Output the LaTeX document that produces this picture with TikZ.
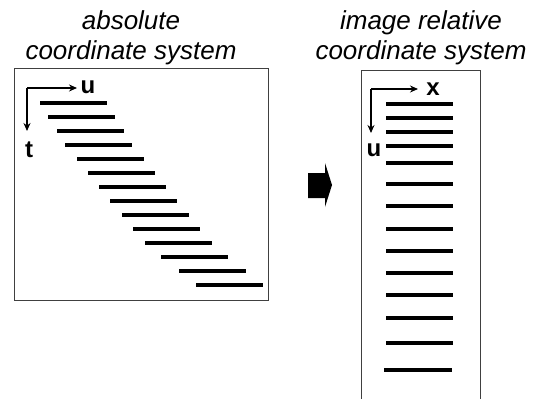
\documentclass[tikz,border=0pt]{standalone}
\usepackage{fontspec}
\setmainfont{Liberation Sans}
\usetikzlibrary{arrows.meta, positioning}

\tikzset{
  title/.style={font=\fontsize{26}{30}\selectfont\itshape, align=center, inner sep=0pt},
  axislabel/.style={font=\fontsize{24}{26}\selectfont\bfseries, inner sep=0pt},
  axis/.style={line width=2pt, -{Stealth[length=8pt,width=7pt]}},
  frame/.style={line width=0.8pt, black!75},
  bar/.style={line width=4.5pt}
}

\begin{document}
\begin{tikzpicture}[x=1pt, y=-1pt]
\useasboundingbox (0,0) rectangle (533,399);
%
\node[title] (absT) at (131,38) {absolute\\coordinate system};
\node[title] (relT) at (421,38) {image relative\\coordinate system};

% absolute
\draw[frame] (14,68) rectangle (268,300);
\coordinate (o1) at (27,88);
\coordinate (u1end) at (77,88);
\coordinate (t1end) at (27,131);
\node[axislabel] (u1) at (88,87) {u};
\node[axislabel] (t1) at (29,150) {t};
\draw[axis] (o1) -- (u1end);
\draw[axis] (o1) -- (t1end);
\foreach \xa/\ya in {40/103, 48/117, 57/131, 65/145, 77/159, 88/173, 99/187,
                     110/201, 122/215, 133/229, 145/243, 161/257, 179/271, 196/285}
  \draw[bar] (\xa,\ya) -- ++(67,0);

% block arrow
\fill (308,173) -- (325,173) -- (325,163) -- (332,185) -- (325,207)
      -- (325,198) -- (308,198) -- cycle;

% image relative
\draw[frame] (361,399) -- (361,70) -- (480,70) -- (480,399);
\coordinate (o2) at (371,89);
\coordinate (x2end) at (418,89);
\coordinate (u2end) at (371,133);
\node[axislabel] (x2) at (433,89) {x};
\node[axislabel] (u2) at (374,150) {u};
\draw[axis] (o2) -- (x2end);
\draw[axis] (o2) -- (u2end);
\foreach \yb in {104, 118, 132, 146, 163, 184, 206, 229, 251, 273, 295, 318, 343}
  \draw[bar] (386,\yb) -- ++(67,0);
\draw[bar] (384,370) -- ++(68,0);
%
\end{tikzpicture}
\end{document}
